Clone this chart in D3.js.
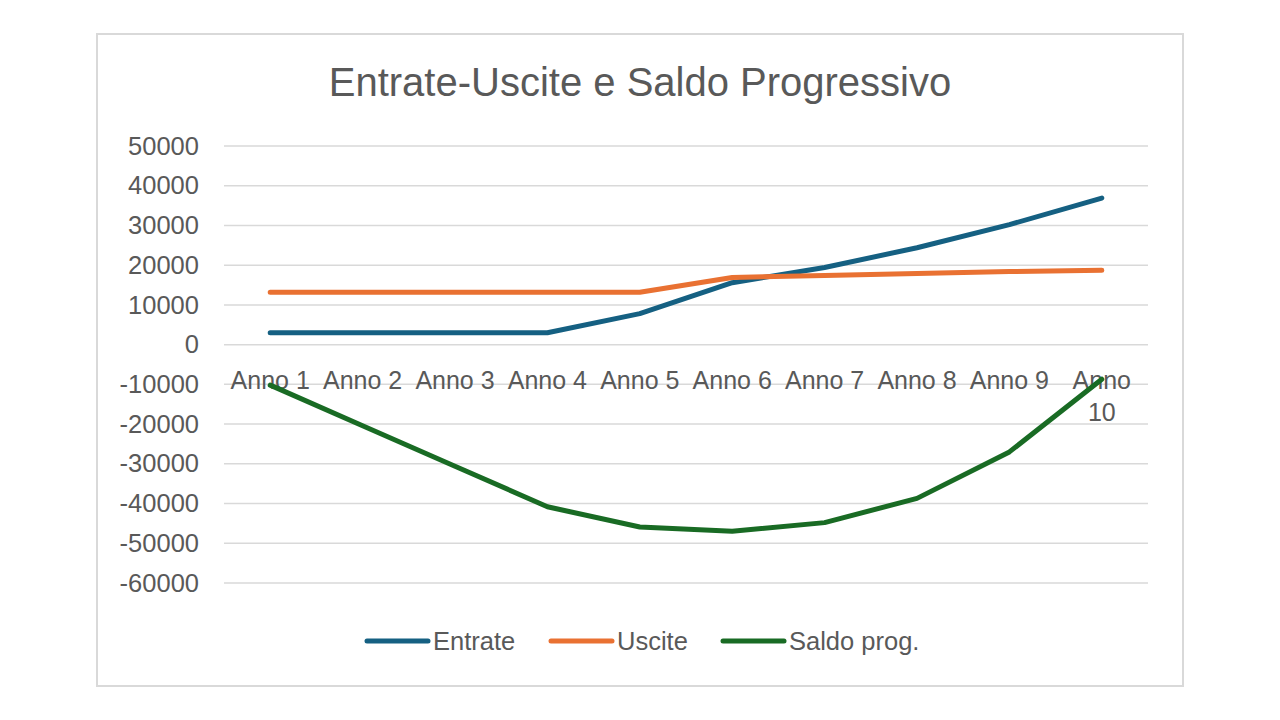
<!DOCTYPE html>
<html><head><meta charset="utf-8">
<script src="https://cdn.jsdelivr.net/npm/d3@7"></script>
<style>html,body{margin:0;padding:0;background:#fff;}svg{display:block;}</style>
</head><body>
<svg id="chart" width="1280" height="720"></svg>
<script>
const categories = ["Anno 1","Anno 2","Anno 3","Anno 4","Anno 5","Anno 6","Anno 7","Anno 8","Anno 9","Anno 10"];
const entrate = [3000,3000,3000,3000,7800,15600,19400,24400,30200,36900];
const uscite  = [13200,13200,13200,13200,13200,16900,17400,17900,18400,18700];
const saldo   = [-10200,-20400,-30600,-40800,-45900,-47000,-44800,-38700,-27000,-8700];
const yTicks  = [50000,40000,30000,20000,10000,0,-10000,-20000,-30000,-40000,-50000,-60000];
const seriesNames = ["Entrate","Uscite","Saldo prog."];
const title = "Entrate-Uscite e Saldo Progressivo";

const colors = ["#156082","#E97132","#196B24"];
const font = "'Liberation Sans', Arial, sans-serif";
const textColor = "#595959";
const svg = d3.select("#chart");

svg.append("rect").attr("x",97).attr("y",34).attr("width",1086).attr("height",652)
  .attr("fill","#fff").attr("stroke","#d9d9d9").attr("stroke-width",2);

svg.append("text").attr("x",640).attr("y",96).attr("text-anchor","middle")
  .attr("font-family",font).attr("font-size",40).attr("fill",textColor).text(title);

const x = d3.scaleBand().domain(categories).range([224,1148]);
const y = d3.scaleLinear().domain([-60000,50000]).range([583,146]);

// gridlines
svg.append("g").selectAll("line").data(yTicks).join("line")
  .attr("x1",224).attr("x2",1148).attr("y1",d=>y(d)).attr("y2",d=>y(d))
  .attr("stroke","#d9d9d9").attr("stroke-width",1.5);

// y axis labels
const yAxis = d3.axisLeft(y).tickValues(yTicks).tickSize(0).tickPadding(0).tickFormat(d=>String(d));
const yg = svg.append("g").attr("transform","translate(199,0)").call(yAxis);
yg.select(".domain").remove();
yg.selectAll("text").attr("font-family",font).attr("font-size",25.5).attr("fill",textColor);

// x axis labels at value 0
const xAxis = d3.axisBottom(x).tickSize(0).tickPadding(0);
const xg = svg.append("g").attr("transform",`translate(0,${y(0)})`).call(xAxis);
xg.select(".domain").remove();
xg.selectAll("text").attr("font-family",font).attr("font-size",25).attr("fill",textColor)
  .attr("dy",null).attr("y",44)
  .each(function(d){
    const t = d3.select(this);
    if (this.getComputedTextLength() > x.bandwidth()) {
      const parts = d.split(" ");
      t.text(null);
      parts.forEach((p,i)=>{
        t.append("tspan").attr("x",0).attr("y",44+i*32).text(p);
      });
    }
  });

// lines
const line = d3.line().x((d,i)=>x(categories[i])+x.bandwidth()/2).y(d=>y(d));
[entrate,uscite,saldo].forEach((s,i)=>{
  svg.append("path").datum(s).attr("d",line).attr("fill","none")
    .attr("stroke",colors[i]).attr("stroke-width",5)
    .attr("stroke-linecap","round").attr("stroke-linejoin","round");
});

// legend
const legendX = [367,551,723];
const lg = svg.append("g");
seriesNames.forEach((n,i)=>{
  lg.append("line").attr("x1",legendX[i]).attr("x2",legendX[i]+61).attr("y1",641).attr("y2",641)
    .attr("stroke",colors[i]).attr("stroke-width",5).attr("stroke-linecap","round");
  lg.append("text").attr("x",legendX[i]+66).attr("y",650).attr("font-family",font)
    .attr("font-size",25.5).attr("fill",textColor).text(n);
});
</script>
</body></html>
